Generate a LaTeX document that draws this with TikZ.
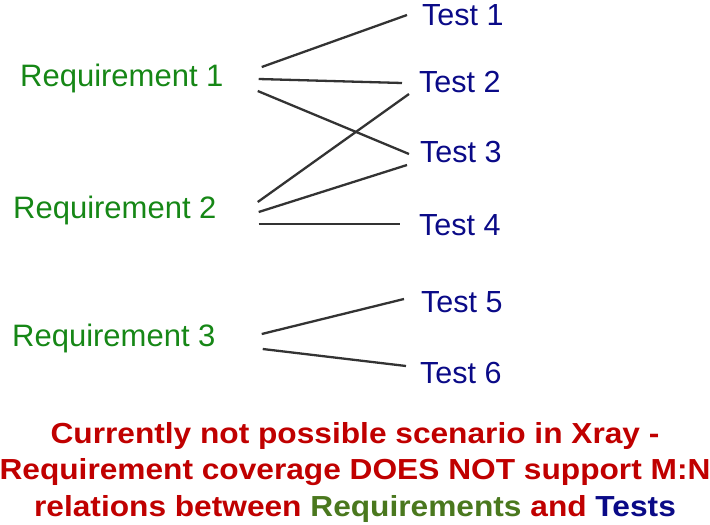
\documentclass[tikz,border=0pt]{standalone}
\usepackage{fontspec}
\setmainfont{Liberation Sans}
\usepackage{tikz}
\usetikzlibrary{calc}

\definecolor{reqgreen}{RGB}{22,135,22}
\definecolor{notegreen}{RGB}{74,120,30}
\definecolor{testblue}{RGB}{10,10,135}
\definecolor{notered}{RGB}{192,0,0}

\tikzset{
  req/.style={anchor=base west,inner sep=0pt,text=reqgreen,font=\fontsize{31}{36}\selectfont},
  test/.style={anchor=base west,inner sep=0pt,text=testblue,font=\fontsize{30.5}{36}\selectfont},
  link/.style={line width=2.3pt,draw=black!80},
  note/.style={inner sep=0pt,align=center,text=notered,font=\fontsize{29}{36.5}\selectfont\bfseries}
}

\begin{document}
\begin{tikzpicture}[x=1pt,y=-1pt]

  \useasboundingbox (0,0) rectangle (710,525);

  %% Requirements on the left
  \node[req] (req1) at (20,86) {Requirement 1};
  \node[req] (req2) at (13,218) {Requirement 2};
  \node[req] (req3) at (12,346) {Requirement 3};

  %% Tests on the right
  \node[test] (test1) at (422,25) {Test 1};
  \node[test] (test2) at (419,92) {Test 2};
  \node[test] (test3) at (420,162) {Test 3};
  \node[test] (test4) at (419,235) {Test 4};
  \node[test] (test5) at (421,312) {Test 5};
  \node[test] (test6) at (420,383) {Test 6};

  %% Links between them
  \draw[link] ($(req1.base east)+(38,-19)$) -- ($(test1.base west)+(-15,-10)$);
  \draw[link] ($(req1.base east)+(35,-7)$) -- ($(test2.base west)+(-17,-9)$);
  \draw[link] ($(req1.base east)+(34,5)$) -- ($(test3.base west)+(-11,-8)$);
  \draw[link] ($(req2.base east)+(41,-16)$) -- ($(test2.base west)+(-10,2)$);
  \draw[link] ($(req2.base east)+(42,-6)$) -- ($(test3.base west)+(-13,3)$);
  \draw[link] ($(req2.base east)+(42,6)$) -- ($(test4.base west)+(-19,-11)$);
  \draw[link] ($(req3.base east)+(46,-12)$) -- ($(test5.base west)+(-17,-13)$);
  \draw[link] ($(req3.base east)+(47,3)$) -- ($(test6.base west)+(-14,-17)$);

  %% Note below
  \node[note,xscale=1.092,transform shape] (note) at (355,472)
    {Currently not possible scenario in Xray -\\
     Requirement coverage DOES NOT support M:N\\
     relations between \textcolor{notegreen}{Requirements} and \textcolor{testblue}{Tests}};

\end{tikzpicture}
\end{document}
